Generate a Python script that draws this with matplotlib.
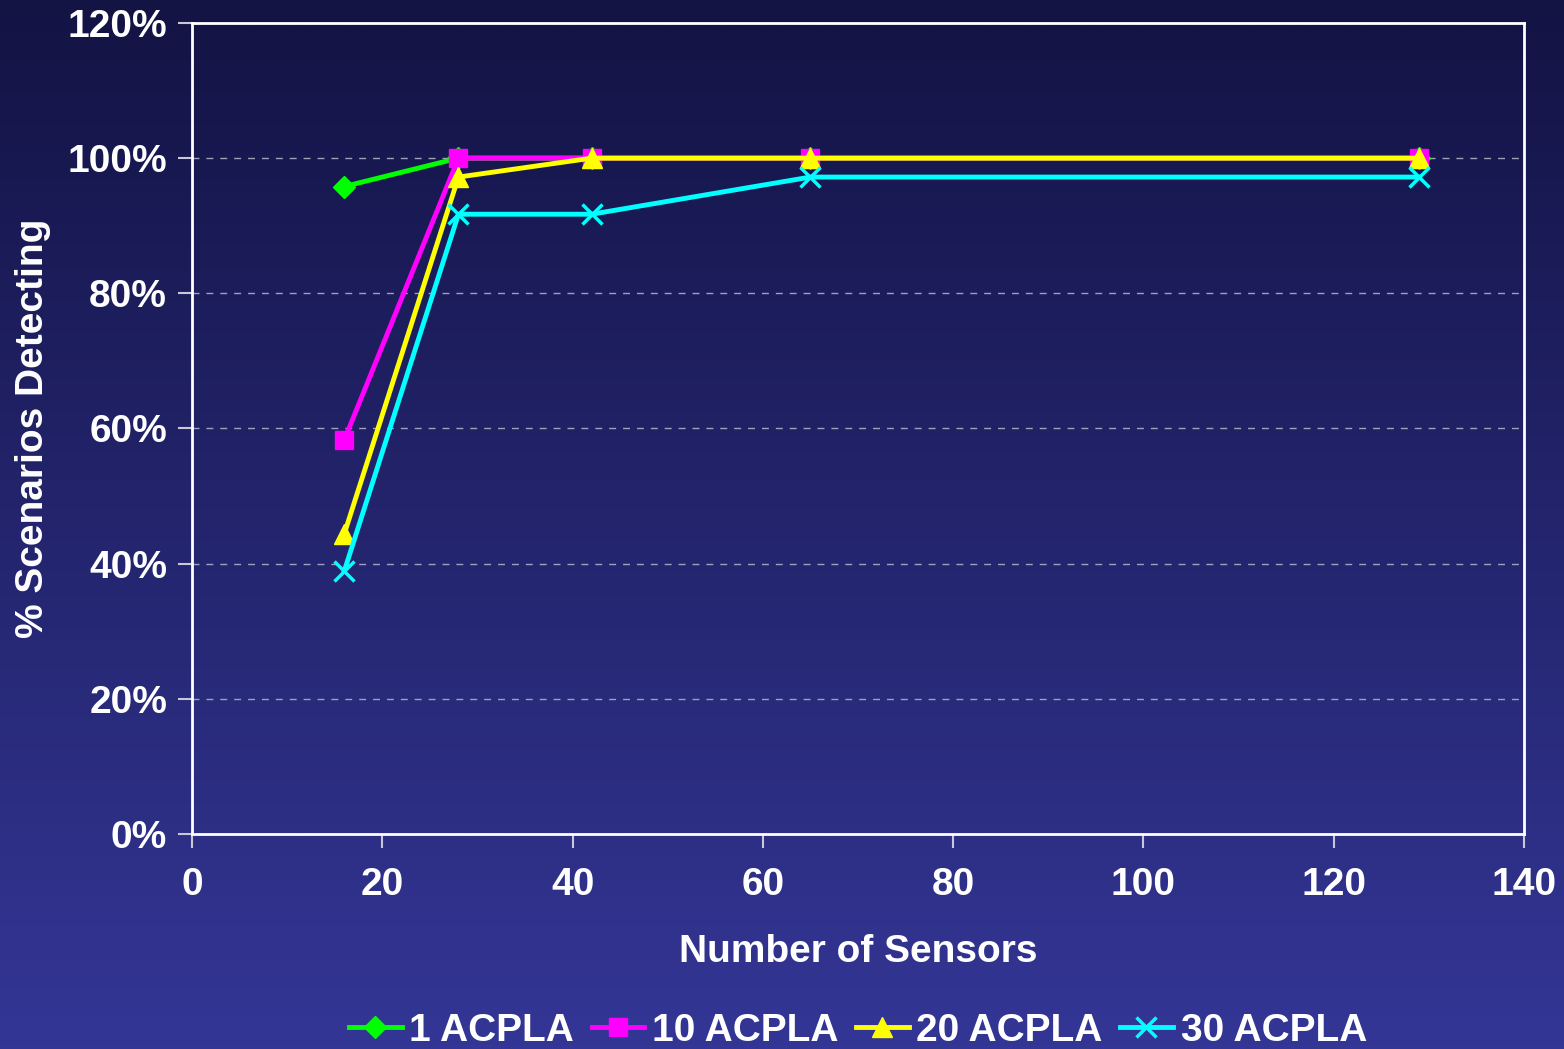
import numpy as np
import matplotlib.pyplot as plt
from matplotlib.colors import LinearSegmentedColormap
from matplotlib.ticker import FuncFormatter

plt.rcParams['font.family'] = ['Liberation Sans', 'DejaVu Sans']
plt.rcParams['font.weight'] = 'bold'
plt.rcParams['axes.labelweight'] = 'bold'

sensors = [16, 28, 42, 65, 129]
acpla_1 = [95.8, 100, 100, 100, 100]
acpla_10 = [58.3, 100, 100, 100, 100]
acpla_20 = [44.4, 97.2, 100, 100, 100]
acpla_30 = [38.9, 91.7, 91.7, 97.2, 97.2]

fig = plt.figure(figsize=(15.64, 10.49), dpi=100)

# vertical gradient backdrop
bg = fig.add_axes([0, 0, 1, 1], zorder=-10)
cmap = LinearSegmentedColormap.from_list('bg', ['#131344', '#343696'])
bg.imshow(np.linspace(0, 1, 256).reshape(-1, 1), aspect='auto', cmap=cmap,
          extent=[0, 1, 0, 1])
bg.axis('off')

ax = fig.add_axes([0.1228, 0.2050, 0.8516, 0.7731])
ax.patch.set_alpha(0)

ax.plot(sensors, acpla_1, color='#00ff00', lw=3.5, marker='D', ms=11,
        label='1 ACPLA')
ax.plot(sensors, acpla_10, color='#ff00ff', lw=3.5, marker='s', ms=13,
        label='10 ACPLA')
ax.plot(sensors, acpla_20, color='#ffff00', lw=3.5, marker='^', ms=14,
        label='20 ACPLA')
ax.plot(sensors, acpla_30, color='#00ffff', lw=3.5, marker='x', ms=14,
        mew=2.5, label='30 ACPLA')

ax.set_xlim(0, 140)
ax.set_ylim(0, 120)
ax.set_xticks(range(0, 141, 20))
ax.set_yticks(range(0, 121, 20))
ax.yaxis.set_major_formatter(FuncFormatter(lambda v, p: f'{v:.0f}%'))

ax.grid(axis='y', color='#a0a0b8', ls=(0, (5, 5)), lw=1)
for s in ax.spines.values():
    s.set_color('white')
    s.set_linewidth(2)
ax.tick_params(colors='#c8c8d8', labelcolor='white', labelsize=28,
               length=10, width=1.5)
ax.tick_params(axis='x', pad=14)
ax.tick_params(axis='y', pad=8)

ax.set_xlabel('Number of Sensors', color='white', fontsize=28, labelpad=22)
ax.set_ylabel('% Scenarios Detecting', color='white', fontsize=28,
              labelpad=12)

leg = ax.legend(loc='center', bbox_to_anchor=(0.5, -0.243), ncol=4,
                frameon=False, fontsize=28, handlelength=1.35,
                handletextpad=0.2, columnspacing=0.45, labelcolor='white')

fig.savefig('out.png', dpi=100)
